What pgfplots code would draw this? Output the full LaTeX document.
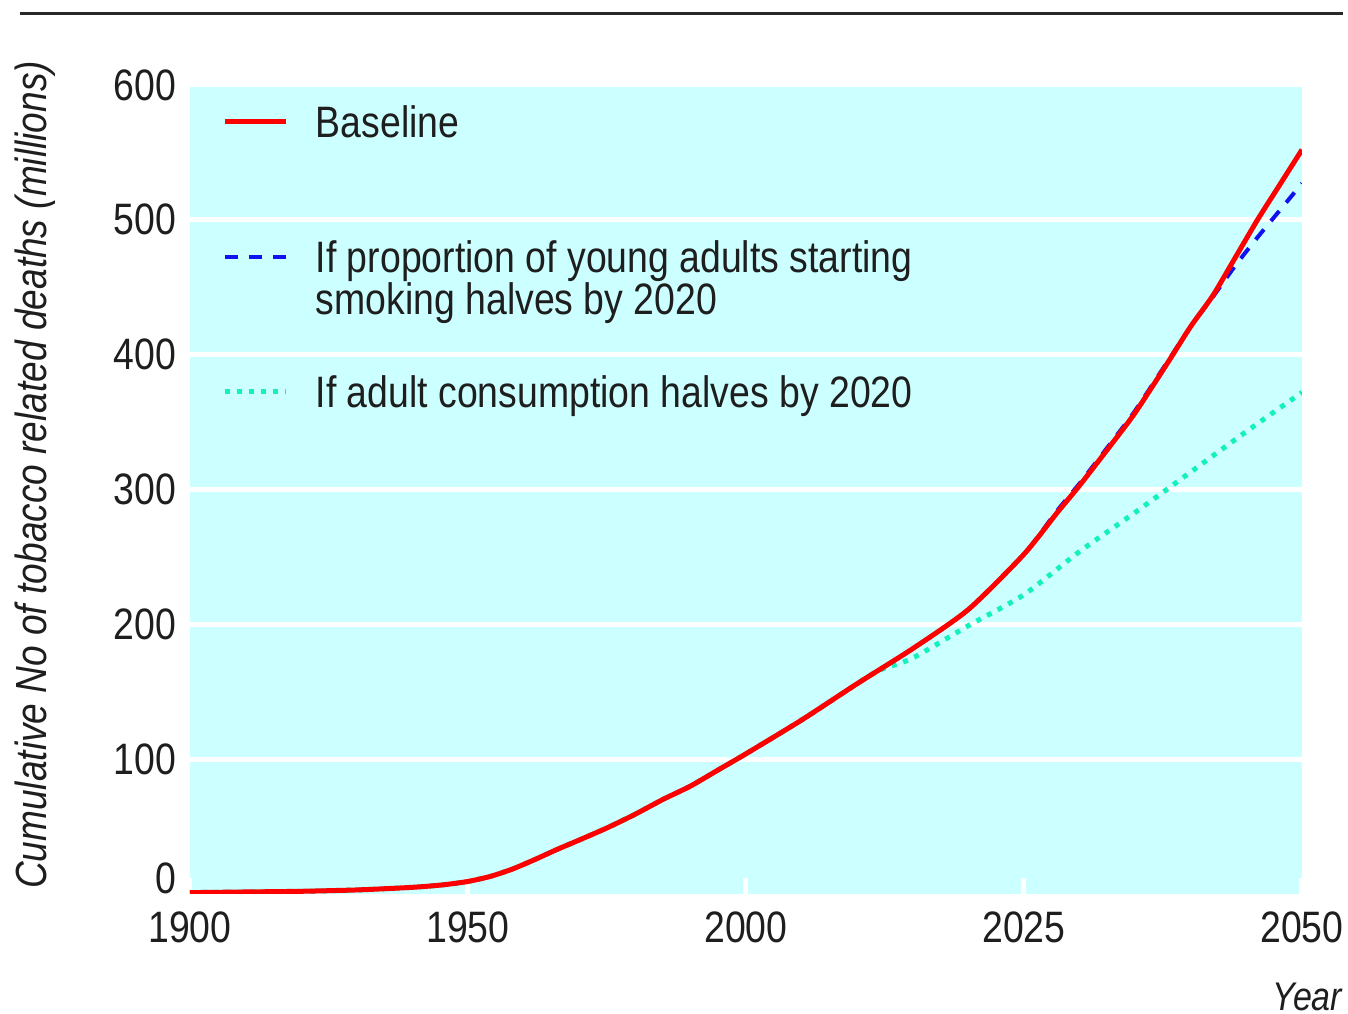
\documentclass[border=0pt]{standalone}
\usepackage{fontspec}
\setmainfont{Liberation Sans}[FakeStretch=0.85]
\usepackage{pgfplots}
\usepackage{pgfplotstable}
\pgfplotsset{compat=1.18}

\definecolor{bgcyan}{RGB}{204,255,255}
\definecolor{lineblue}{RGB}{16,16,240}
\definecolor{linemint}{RGB}{20,240,190}
\definecolor{rulegray}{RGB}{40,40,40}
\definecolor{txt}{RGB}{30,30,30}

% cumulative deaths (millions), baseline
\pgfplotstableread{
year deaths
1900 1
1910 1.5
1920 2
1930 3
1938 4.5
1942 5.5
1946 7
1950 9.3
1954 13
1958 18.5
1962 25.5
1966 33
1970 40
1975 49
1980 59
1985 70
1990 80
1995 92
2000 104
2005 129
2010 156
2015 182
2020 211
2025 252
2028 283
2030 303
2033 335
2035 357
2038 395
2040 421
2042 444
2044 472
2046 500
2048 526
2050 552
}\tblbase

% young adults starting smoking halves by 2020
\pgfplotstableread{
year deaths
1900 1
1910 1.5
1920 2
1930 3
1938 4.5
1942 5.5
1946 7
1950 9.3
1954 13
1958 18.5
1962 25.5
1966 33
1970 40
1975 49
1980 59
1985 70
1990 80
1995 92
2000 104
2005 129
2010 156
2015 182
2020 211
2025 252
2028 284.5
2030 304.5
2033 336.5
2035 358.5
2038 396
2040 421
2042 443
2044 466
2046 487
2048 507
2050 527
}\tblyoung

% adult consumption halves by 2020
\pgfplotstableread{
year deaths
1900 1
1910 1.5
1920 2
1930 3
1938 4.5
1942 5.5
1946 7
1950 9.3
1954 13
1958 18.5
1962 25.5
1966 33
1970 40
1975 49
1980 59
1985 70
1990 80
1995 92
2000 104
2005 129
2010 156
2012 166
2015 175
2020 199
2025 222
2030 254
2035 283
2040 313
2045 343
2050 372
}\tblcons

\begin{document}
\begin{tikzpicture}[font=\fontsize{11}{13.2}\selectfont, text=txt]
\useasboundingbox (-47.5pt,-30pt) rectangle (289.5pt,223.5pt);
\begin{axis}[
  scale only axis,
  width=278pt, height=202.25pt,
  x coord trafo/.code={\pgfmathparse{#1>2000 ? 2+(#1-2000)/25 : (#1-1900)/50}},
  xmin=1900, xmax=2050,
  ymin=0, ymax=600,
  xtick={1900,1950,2000,2025,2050},
  xticklabels={1900,1950,2000,2025,2050},
  ytick={100,200,...,600},
  extra y ticks={0},
  extra y tick style={grid=none, yticklabel style={yshift=4pt}},
  /pgf/number format/assume math mode=true,
  xticklabel style={yshift=-1pt},
  axis background/.style={fill=bgcyan},
  axis line style={draw=none},
  ymajorgrids,
  major grid style={white, line width=1.25pt},
  tick align=inside,
  major tick length=4pt,
  xtick pos=lower,
  xtick style={white, line width=1.25pt},
  ytick style={draw=none},
  xlabel={Year},
  ylabel={Cumulative No of tobacco related deaths (millions)},
  every axis x label/.style={at={(axis description cs:1.0369,-0.1273)}, anchor=east, inner sep=0pt, font=\itshape},
  every axis y label/.style={at={(axis description cs:-0.1395,0.518)}, rotate=90, anchor=center, inner sep=0pt, font=\fontsize{10.9}{13}\selectfont\itshape},
  legend image code/.code={\draw[#1] (0pt,4pt) -- (15.25pt,4pt);},
  legend style={at={(axis description cs:0.0288,0.9753)}, anchor=north west,
    draw=none, fill=none, inner sep=0pt, row sep=25.75pt, column sep=6.75pt,
    font=\fontsize{11}{10}\selectfont,
    cells={anchor=base west},
    nodes={inner sep=0pt, text height=8pt, text depth=0pt}},
  reverse legend,
]
\addplot[linemint, line width=1.25pt, dash pattern=on 1.25pt off 1.75pt, smooth, tension=0.4] table[x=year, y=deaths] {\tblcons};
\addlegendentry{If adult consumption halves by 2020}
\addplot[lineblue, line width=1pt, dash pattern=on 3.25pt off 2.75pt, smooth, tension=0.4] table[x=year, y=deaths] {\tblyoung};
\addlegendentry{\begin{tabular}[t]{@{}l@{}}If proportion of young adults starting\\[-0.5pt]smoking halves by 2020\end{tabular}}
\addplot[red, line width=1.25pt, smooth, tension=0.4] table[x=year, y=deaths] {\tblbase};
\addlegendentry{Baseline}
\end{axis}
\draw[rulegray, line width=0.75pt] (-42.5pt,220pt) -- (288.25pt,220pt);
\end{tikzpicture}
\end{document}
